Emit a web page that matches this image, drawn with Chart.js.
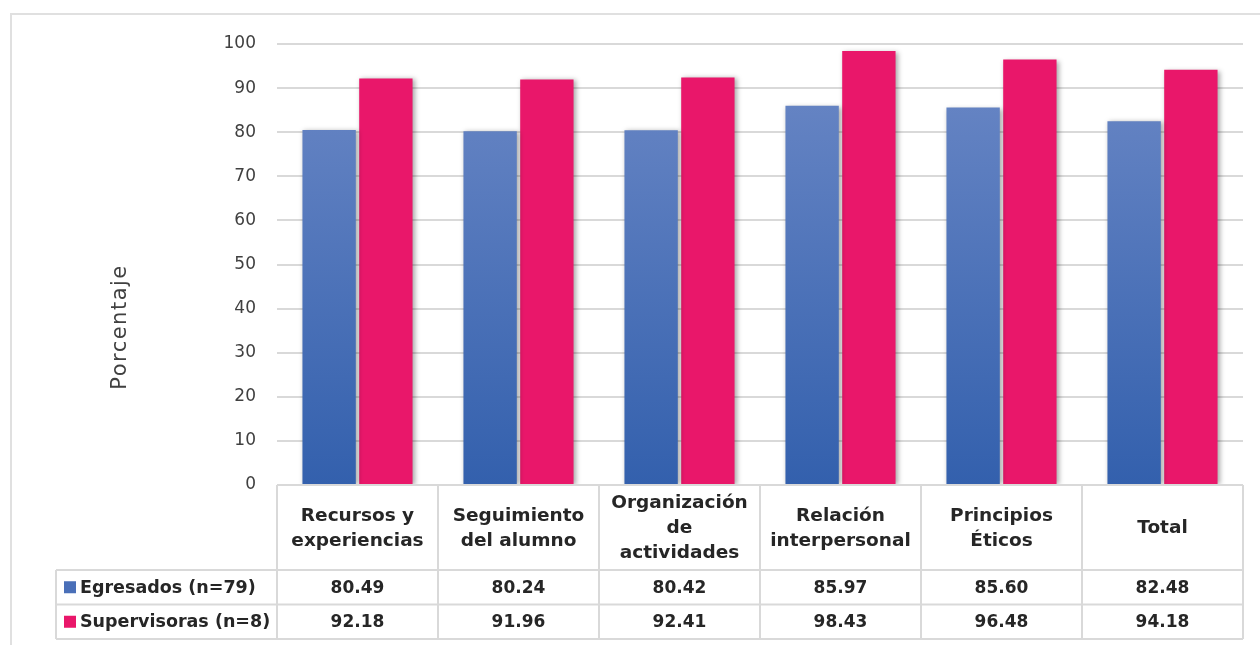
<!DOCTYPE html>
<html>
<head>
<meta charset="utf-8">
<script src="https://cdn.jsdelivr.net/npm/chart.js@4.4.1/dist/chart.umd.min.js"></script>
<style>
  html, body { margin: 0; padding: 0; background: #fff; }
  #wrap { position: relative; width: 1260px; height: 645px; }
  #frame { position: absolute; left: 10px; top: 13px; width: 1260px; height: 640px; border: 2px solid #e0e0e0; box-sizing: border-box; pointer-events: none; }
</style>
</head>
<body>
<div id="wrap">
  <div id="frame"></div>
  <canvas id="chart" width="1260" height="645"></canvas>
</div>
<script>
// Data
var categories = [
  ['Recursos y', 'experiencias'],
  ['Seguimiento', 'del alumno'],
  ['Organización', 'de', 'actividades'],
  ['Relación', 'interpersonal'],
  ['Principios', 'Éticos'],
  ['Total']
];
var seriesNames = ['Egresados (n=79)', 'Supervisoras (n=8)'];
var egresados = [80.49, 80.24, 80.42, 85.97, 85.60, 82.48];
var supervisoras = [92.18, 91.96, 92.41, 98.43, 96.48, 94.18];
var yTicks = [0, 10, 20, 30, 40, 50, 60, 70, 80, 90, 100];

var FONT = '"DejaVu Sans", sans-serif';
var lineCol = '#d9d9d9';
var pink = '#e9176a';

function blueGradient(ctx) {
  var chart = ctx.chart, area = chart.chartArea;
  if (!area) return '#4a70b8';
  var g = chart.ctx.createLinearGradient(0, area.top + 40, 0, area.bottom);
  g.addColorStop(0, '#6785c4');
  g.addColorStop(1, '#3360ad');
  return g;
}

// soft shadow behind bars
var shadowPlugin = {
  id: 'barShadow',
  beforeDatasetsDraw: function(chart) {
    var c = chart.ctx;
    c.save();
    c.shadowColor = 'rgba(0,0,0,0.35)';
    c.shadowBlur = 5;
    c.shadowOffsetX = 2;
    c.shadowOffsetY = 1;
  },
  afterDatasetsDraw: function(chart) { chart.ctx.restore(); }
};

// data table under the plot + axis title
var tablePlugin = {
  id: 'dataTable',
  afterDraw: function(chart) {
    var c = chart.ctx, area = chart.chartArea, x = chart.scales.x;
    var step = (area.right - area.left) / categories.length;
    var top = area.bottom, headBottom = top + 85;
    var rowH = 34.5;
    var labelLeft = 56;
    c.save();
    c.strokeStyle = lineCol;
    c.lineWidth = 2;
    c.beginPath();
    c.moveTo(area.left, top); c.lineTo(area.right, top);
    for (var r = 0; r <= 2; r++) {
      var yy = headBottom + r * rowH;
      c.moveTo(labelLeft, yy); c.lineTo(area.right, yy);
    }
    for (var i = 0; i <= categories.length; i++) {
      var xx = area.left + i * step;
      c.moveTo(xx, top); c.lineTo(xx, headBottom + 2 * rowH);
    }
    c.moveTo(labelLeft, headBottom); c.lineTo(labelLeft, headBottom + 2 * rowH);
    c.stroke();

    c.fillStyle = '#262626';
    c.textAlign = 'center';
    c.textBaseline = 'middle';
    var headMid = (top + headBottom) / 2 + 1;
    categories.forEach(function(lines, i) {
      var cx = x.getPixelForValue(i);
      var lh = 25;
      var y0 = headMid - (lines.length - 1) * lh / 2;
      c.font = 'bold 18.5px ' + FONT;
      lines.forEach(function(t, j) { c.fillText(t, cx, y0 + j * lh); });
      c.font = 'bold 17px ' + FONT;
      c.fillText(egresados[i].toFixed(2), cx, headBottom + rowH / 2 + 1);
      c.fillText(supervisoras[i].toFixed(2), cx, headBottom + rowH * 1.5 + 1);
    });

    // row headers with legend keys
    c.textAlign = 'left';
    c.font = 'bold 17.5px ' + FONT;
    [['#4a6fb8', seriesNames[0]], [pink, seriesNames[1]]].forEach(function(it, r) {
      var cy = headBottom + rowH * (r + 0.5);
      c.fillStyle = it[0];
      c.fillRect(64, cy - 6, 12, 12);
      c.fillStyle = '#262626';
      c.fillText(it[1], 80, cy + 1);
    });

    // axis title
    c.translate(121, 327);
    c.rotate(-Math.PI / 2);
    c.textAlign = 'center';
    c.font = '21px ' + FONT;
    c.letterSpacing = '1.5px';
    c.fillStyle = '#404040';
    c.fillText('Porcentaje', 0, 0);
    c.restore();
  }
};

new Chart(document.getElementById('chart'), {
  type: 'bar',
  data: {
    labels: categories,
    datasets: [
      { label: seriesNames[0], data: egresados, backgroundColor: blueGradient, barPercentage: 0.94, categoryPercentage: 0.705 },
      { label: seriesNames[1], data: supervisoras, backgroundColor: pink, barPercentage: 0.94, categoryPercentage: 0.705 }
    ]
  },
  options: {
    responsive: false,
    animation: false,
    layout: { padding: { left: 0, right: 17, top: 44, bottom: 160 } },
    plugins: { legend: { display: false }, tooltip: { enabled: false } },
    scales: {
      x: { display: false },
      y: {
        min: 0, max: 100,
        afterFit: function(s) { s.width = 277; },
        afterBuildTicks: function(s) { s.ticks = yTicks.map(function(v) { return { value: v }; }); },
        ticks: { color: '#404040', padding: 21, font: { family: FONT, size: 17 } },
        grid: { color: lineCol, lineWidth: 2, drawTicks: false },
        border: { display: false }
      }
    }
  },
  plugins: [shadowPlugin, tablePlugin]
});
</script>
</body>
</html>
